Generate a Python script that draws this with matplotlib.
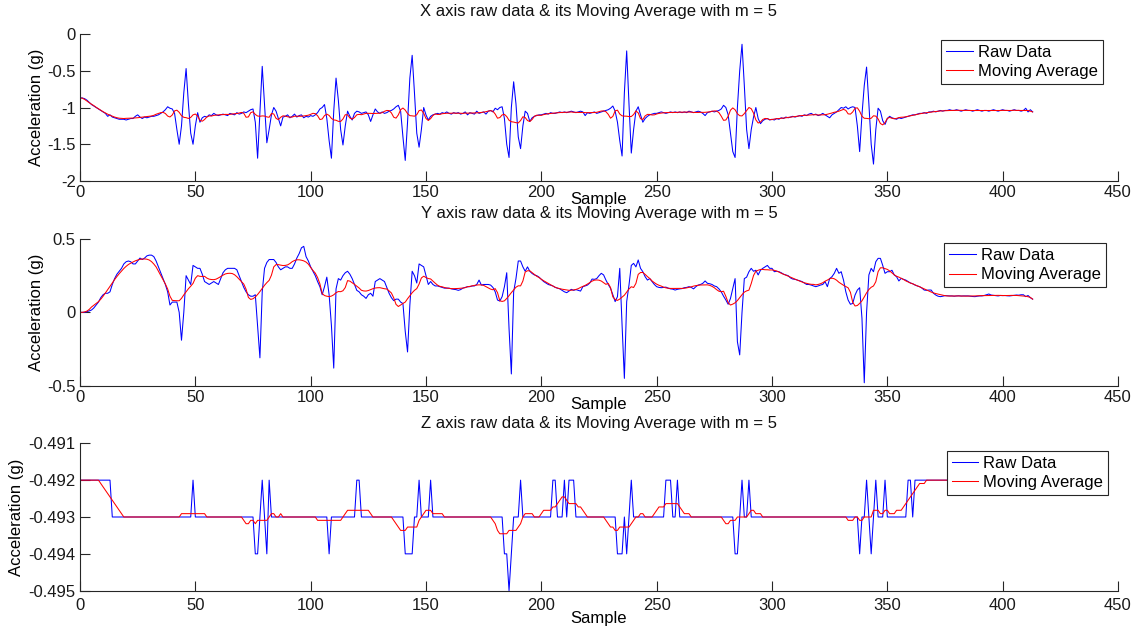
import numpy as np
import matplotlib
matplotlib.use("Agg")
import matplotlib.pyplot as plt

plt.rcParams['font.family'] = ['Liberation Sans', 'DejaVu Sans']
plt.rcParams['axes.unicode_minus'] = False

# ---------------- data ----------------
x_raw = [
    -0.87, -0.87, -0.88, -0.90, -0.93, -0.96, -0.98, -1.00, -1.02, -1.04,
    -1.06, -1.08, -1.12, -1.10, -1.13, -1.14, -1.15, -1.16, -1.16, -1.16,
    -1.17, -1.16, -1.15, -1.15, -1.12, -1.10, -1.13, -1.15, -1.13, -1.14,
    -1.13, -1.12, -1.12, -1.11, -1.10, -1.08, -1.06, -1.03, -0.99, -1.01,
    -1.02, -1.08, -1.30, -1.50, -1.25, -0.80, -0.47, -0.95, -1.35, -1.50,
    -1.25, -1.07, -1.20, -1.14, -1.12, -1.13, -1.10, -1.11, -1.08, -1.10,
    -1.11, -1.10, -1.09, -1.10, -1.11, -1.08, -1.09, -1.10, -1.07, -1.09,
    -1.08, -1.06, -1.07, -1.05, -1.03, -1.02, -1.20, -1.69, -1.05, -0.44,
    -0.95, -1.48, -1.30, -1.10, -1.00, -1.05, -1.15, -1.25, -1.13, -1.12,
    -1.10, -1.14, -1.12, -1.09, -1.13, -1.11, -1.10, -1.14, -1.12, -1.13,
    -1.11, -1.12, -1.10, -1.07, -1.02, -1.00, -0.96, -1.15, -1.45, -1.69,
    -1.05, -0.60, -0.90, -1.30, -1.51, -1.25, -1.05, -1.12, -1.17, -1.08,
    -1.05, -1.06, -1.08, -1.07, -1.06, -1.10, -1.19, -1.10, -1.02, -1.06,
    -1.08, -1.06, -1.08, -1.07, -1.05, -1.04, -1.02, -0.99, -0.97, -1.05,
    -1.40, -1.72, -1.20, -0.60, -0.29, -0.80, -1.35, -1.54, -1.30, -1.00,
    -1.10, -1.17, -1.12, -1.10, -1.09, -1.08, -1.09, -1.07, -1.08, -1.06,
    -1.08, -1.09, -1.07, -1.08, -1.07, -1.09, -1.08, -1.06, -1.10, -1.07,
    -1.08, -1.09, -1.05, -1.08, -1.07, -1.06, -1.09, -1.05, -1.04, -1.06,
    -1.01, -1.03, -1.00, -0.99, -1.15, -1.50, -1.68, -1.00, -0.65, -0.95,
    -1.40, -1.56, -1.25, -1.05, -1.08, -1.19, -1.14, -1.12, -1.11, -1.10,
    -1.10, -1.09, -1.08, -1.09, -1.07, -1.08, -1.08, -1.07, -1.06, -1.07,
    -1.06, -1.07, -1.06, -1.05, -1.06, -1.07, -1.06, -1.05, -1.06, -1.11,
    -1.07, -1.08, -1.07, -1.06, -1.08, -1.07, -1.06, -1.05, -1.04, -1.03,
    -1.01, -0.98, -1.05, -1.20, -1.45, -1.66, -0.80, -0.23, -0.95, -1.62,
    -1.30, -1.05, -0.99, -1.10, -1.20, -1.15, -1.12, -1.10, -1.09, -1.08,
    -1.08, -1.07, -1.06, -1.07, -1.08, -1.07, -1.06, -1.07, -1.06, -1.07,
    -1.06, -1.07, -1.06, -1.07, -1.05, -1.06, -1.07, -1.06, -1.05, -1.06,
    -1.08, -1.11, -1.07, -1.06, -1.05, -1.06, -1.05, -1.04, -1.02, -0.97,
    -1.00, -1.10, -1.35, -1.60, -1.68, -1.00, -0.50, -0.14, -0.70, -1.30,
    -1.56, -1.30, -1.13, -1.00, -1.15, -1.22, -1.18, -1.16, -1.15, -1.17,
    -1.16, -1.17, -1.15, -1.16, -1.14, -1.15, -1.13, -1.14, -1.13, -1.12,
    -1.13, -1.12, -1.11, -1.12, -1.10, -1.11, -1.09, -1.08, -1.10, -1.09,
    -1.11, -1.10, -1.08, -1.10, -1.12, -1.14, -1.10, -1.08, -1.06, -1.03,
    -1.00, -1.01, -0.99, -1.02, -1.00, -0.99, -1.00, -1.25, -1.60, -1.10,
    -0.70, -0.45, -0.95, -1.50, -1.77, -1.30, -1.01, -1.05, -1.18, -1.23,
    -1.15, -1.12, -1.14, -1.15, -1.16, -1.14, -1.15, -1.14, -1.13, -1.12,
    -1.11, -1.10, -1.10, -1.09, -1.08, -1.08, -1.07, -1.08, -1.06, -1.06,
    -1.05, -1.06, -1.05, -1.04, -1.05, -1.04, -1.04, -1.03, -1.04, -1.04,
    -1.03, -1.04, -1.05, -1.04, -1.03, -1.04, -1.04, -1.05, -1.04, -1.03,
    -1.04, -1.05, -1.04, -1.04, -1.05, -1.04, -1.03, -1.04, -1.05, -1.04,
    -1.03, -1.04, -1.04, -1.05, -1.04, -1.03, -1.04, -1.04, -1.05, -1.04,
    -1.01, -1.06, -1.03, -1.06,
]

y_raw = [
    0.000, 0.000, 0.000, 0.005, 0.010, 0.016, 0.030, 0.050, 0.070, 0.100,
    0.120, 0.130, 0.130, 0.140, 0.190, 0.230, 0.260, 0.280, 0.300, 0.330,
    0.345, 0.350, 0.345, 0.330, 0.330, 0.350, 0.370, 0.360, 0.370, 0.385,
    0.390, 0.390, 0.380, 0.350, 0.310, 0.270, 0.230, 0.190, 0.140, 0.050,
    0.070, 0.070, 0.070, 0.000, -0.190, 0.000, 0.250, 0.220, 0.190, 0.320,
    0.310, 0.300, 0.300, 0.260, 0.210, 0.200, 0.190, 0.200, 0.210, 0.200,
    0.190, 0.230, 0.270, 0.290, 0.300, 0.300, 0.300, 0.300, 0.290, 0.250,
    0.210, 0.170, 0.140, 0.120, 0.110, 0.110, 0.120, -0.090, -0.310, 0.140,
    0.300, 0.340, 0.360, 0.360, 0.360, 0.340, 0.310, 0.290, 0.300, 0.310,
    0.310, 0.300, 0.300, 0.330, 0.370, 0.400, 0.440, 0.450, 0.380, 0.350,
    0.310, 0.280, 0.250, 0.210, 0.175, 0.120, 0.175, 0.240, 0.120, -0.090,
    -0.380, 0.160, 0.230, 0.220, 0.250, 0.270, 0.280, 0.260, 0.230, 0.190,
    0.150, 0.140, 0.120, 0.110, 0.095, 0.120, 0.130, 0.110, 0.210, 0.220,
    0.230, 0.220, 0.210, 0.170, 0.130, 0.100, 0.080, 0.090, 0.090, 0.070,
    0.060, -0.130, -0.270, 0.050, 0.280, 0.250, 0.200, 0.330, 0.320, 0.310,
    0.250, 0.190, 0.210, 0.190, 0.180, 0.180, 0.175, 0.170, 0.165, 0.165,
    0.165, 0.160, 0.157, 0.155, 0.150, 0.155, 0.165, 0.170, 0.175, 0.175,
    0.180, 0.180, 0.190, 0.220, 0.186, 0.190, 0.190, 0.190, 0.186, 0.170,
    0.140, 0.084, 0.077, 0.107, 0.175, 0.270, -0.110, -0.420, 0.140, 0.230,
    0.350, 0.350, 0.310, 0.280, 0.310, 0.280, 0.265, 0.255, 0.250, 0.240,
    0.225, 0.210, 0.200, 0.190, 0.185, 0.180, 0.170, 0.165, 0.160, 0.150,
    0.140, 0.134, 0.145, 0.157, 0.150, 0.155, 0.150, 0.145, 0.175, 0.180,
    0.186, 0.200, 0.227, 0.225, 0.230, 0.250, 0.266, 0.255, 0.220, 0.190,
    0.164, 0.120, 0.073, 0.107, 0.300, -0.086, -0.450, 0.073, 0.186, 0.320,
    0.334, 0.310, 0.357, 0.300, 0.277, 0.243, 0.220, 0.230, 0.210, 0.190,
    0.175, 0.170, 0.168, 0.170, 0.172, 0.165, 0.160, 0.158, 0.152, 0.157,
    0.160, 0.162, 0.168, 0.170, 0.175, 0.170, 0.160, 0.175, 0.186, 0.190,
    0.198, 0.214, 0.198, 0.195, 0.190, 0.180, 0.175, 0.160, 0.140, 0.110,
    0.084, 0.055, 0.095, 0.164, 0.230, -0.200, -0.290, 0.000, 0.230, 0.240,
    0.277, 0.300, 0.280, 0.287, 0.255, 0.287, 0.300, 0.310, 0.320, 0.300,
    0.300, 0.277, 0.280, 0.277, 0.270, 0.260, 0.255, 0.250, 0.235, 0.227,
    0.225, 0.220, 0.215, 0.210, 0.200, 0.190, 0.190, 0.186, 0.180, 0.175,
    0.180, 0.186, 0.190, 0.210, 0.175, 0.230, 0.243, 0.266, 0.300, 0.266,
    0.277, 0.220, 0.140, 0.084, 0.055, 0.061, 0.118, 0.152, 0.168, -0.040,
    -0.480, 0.000, 0.255, 0.300, 0.277, 0.345, 0.368, 0.368, 0.320, 0.266,
    0.277, 0.277, 0.287, 0.255, 0.243, 0.214, 0.232, 0.225, 0.220, 0.210,
    0.200, 0.195, 0.186, 0.180, 0.175, 0.165, 0.152, 0.150, 0.152, 0.152,
    0.130, 0.118, 0.110, 0.107, 0.110, 0.114, 0.113, 0.112, 0.112, 0.110,
    0.112, 0.113, 0.111, 0.112, 0.112, 0.112, 0.110, 0.108, 0.107, 0.110,
    0.112, 0.112, 0.115, 0.120, 0.125, 0.118, 0.116, 0.114, 0.112, 0.115,
    0.114, 0.115, 0.113, 0.112, 0.114, 0.116, 0.118, 0.117, 0.120, 0.120,
    0.107, 0.115, 0.100, 0.090,
]

# Z axis readings, in thousandths below -0.490 g (2 -> -0.492, 3 -> -0.493 ...)
z_code = [
    2, 2, 2, 2, 2, 2, 2, 2, 2, 2, 2, 2, 2, 2, 3, 3, 3, 3, 3, 3,
    3, 3, 3, 3, 3, 3, 3, 3, 3, 3, 3, 3, 3, 3, 3, 3, 3, 3, 3, 3,
    3, 3, 3, 3, 3, 3, 3, 3, 3, 2, 3, 3, 3, 3, 3, 3, 3, 3, 3, 3,
    3, 3, 3, 3, 3, 3, 3, 3, 3, 3, 3, 3, 3, 3, 3, 3, 4, 4, 3, 2,
    3, 4, 2, 3, 3, 3, 3, 3, 3, 3, 3, 3, 3, 3, 3, 3, 3, 3, 3, 3,
    3, 3, 3, 3, 3, 3, 3, 3, 4, 3, 3, 3, 3, 3, 3, 3, 3, 3, 3, 3,
    2, 2, 3, 3, 3, 3, 3, 3, 3, 3, 3, 3, 3, 3, 3, 3, 3, 3, 3, 3,
    3, 4, 4, 4, 4, 3, 3, 2, 3, 3, 3, 3, 2, 3, 3, 3, 3, 3, 3, 3,
    3, 3, 3, 3, 3, 3, 3, 3, 3, 3, 3, 3, 3, 3, 3, 3, 3, 3, 3, 3,
    3, 3, 3, 3, 4, 4, 5, 4, 3, 3, 3, 2, 3, 3, 3, 3, 3, 3, 3, 3,
    3, 3, 3, 3, 3, 2, 2, 3, 3, 3, 2, 3, 2, 2, 2, 3, 3, 3, 3, 3,
    3, 3, 3, 3, 3, 3, 3, 3, 3, 3, 3, 3, 3, 4, 4, 4, 3, 4, 3, 2,
    3, 3, 3, 3, 3, 3, 3, 3, 3, 3, 3, 3, 3, 3, 2, 2, 2, 3, 3, 2,
    3, 3, 3, 3, 3, 3, 3, 3, 3, 3, 3, 3, 3, 3, 3, 3, 3, 3, 3, 3,
    3, 3, 3, 3, 4, 4, 3, 2, 3, 3, 2, 3, 3, 3, 3, 3, 3, 3, 3, 3,
    3, 3, 3, 3, 3, 3, 3, 3, 3, 3, 3, 3, 3, 3, 3, 3, 3, 3, 3, 3,
    3, 3, 3, 3, 3, 3, 3, 3, 3, 3, 3, 3, 3, 3, 3, 3, 3, 3, 4, 3,
    3, 2, 3, 4, 3, 2, 3, 3, 3, 2, 3, 3, 3, 3, 3, 3, 3, 3, 3, 2,
    2, 3, 2, 2, 2, 2, 2, 2, 2, 2, 2, 2, 2, 2, 2, 2, 2, 2, 2, 2,
    2, 2, 2, 2, 2, 2, 2, 2, 2, 2, 2, 2, 2, 2, 2, 2, 2, 2, 2, 2,
    2, 2, 2, 2, 2, 2, 2, 2, 2, 2, 2, 2, 2, 2,
]
z_raw = [-0.490 - c / 1000.0 for c in z_code]

m = 5  # half width of the moving-average window (span 2m+1)

titles = ["X axis raw data & its Moving Average with m = 5",
          "Y axis raw data & its Moving Average with m = 5",
          "Z axis raw data & its Moving Average with m = 5"]
x_ticks = [0, 50, 100, 150, 200, 250, 300, 350, 400, 450]
y_ticks_list = [[-2, -1.5, -1, -0.5, 0], [-0.5, 0, 0.5],
                [-0.495, -0.494, -0.493, -0.492, -0.491]]
y_ticklabels_list = [["-2", "-1.5", "-1", "-0.5", "0"], ["-0.5", "0", "0.5"],
                     ["-0.495", "-0.494", "-0.493", "-0.492", "-0.491"]]
series = [x_raw, y_raw, z_raw]


def moving_average(v, half):
    v = np.asarray(v, dtype=float)
    n = len(v)
    out = np.empty(n)
    for i in range(n):
        k = min(i, n - 1 - i, half)
        out[i] = v[i - k:i + k + 1].mean()
    return out


# ---------------- figure ----------------
W, H = 1141, 629
fig = plt.figure(figsize=(W / 100, H / 100), dpi=100)

# axes pixel boxes: (left, top, right, bottom)
boxes = [(80, 34, 1118, 181), (80, 239, 1118, 385.7), (80, 443.3, 1118, 590.7)]
title_y = [11, 214, 424]
xlabel_y = [199, 404, 619]
ylabel_x = [37, 37, 17]
ticklab_pad = [3.0, 3.0, 5.0]
legend_anchor = [(1102.7, 40), (1106, 243.3), (1108.3, 450.7)]

axis_color = '#262626'
FS = 12

for i in range(3):
    l, t, r, b = boxes[i]
    ax = fig.add_axes([l / W, 1 - b / H, (r - l) / W, (b - t) / H])
    raw = series[i]
    s = np.arange(len(raw))
    ax.plot(s, raw, color='#0000ff', lw=0.75, label='Raw Data')
    ax.plot(s, moving_average(raw, m), color='#ff0000', lw=0.75, label='Moving Average')

    ax.set_xlim(0, 450)
    yt = y_ticks_list[i]
    ax.set_ylim(yt[0], yt[-1])
    ax.set_xticks(x_ticks)
    ax.set_xticklabels([str(v) for v in x_ticks])
    ax.set_yticks(yt)
    ax.set_yticklabels(y_ticklabels_list[i])

    for sp in ['top', 'right']:
        ax.spines[sp].set_visible(False)
    for sp in ['left', 'bottom']:
        ax.spines[sp].set_color(axis_color)
        ax.spines[sp].set_linewidth(0.8)
    ax.tick_params(axis='both', direction='in', length=7, width=0.8,
                   color=axis_color, labelsize=FS, labelcolor='#1a1a1a')
    ax.tick_params(axis='x', pad=ticklab_pad[i])
    ax.tick_params(axis='y', pad=3)

    ax.set_ylabel('Acceleration (g)', fontsize=FS)
    ax.yaxis.set_label_coords((ylabel_x[i] - l) / (r - l), 0.5)
    ax.yaxis.label.set_va('center')
    ax.set_xlabel('Sample', fontsize=FS)
    ax.xaxis.set_label_coords(0.5, (b - xlabel_y[i]) / (b - t))
    ax.xaxis.label.set_va('center')

    ax.text(0.5, (b - title_y[i]) / (b - t), titles[i], transform=ax.transAxes,
            ha='center', va='center', fontsize=FS, color='#111111')

    ax_, ay_ = legend_anchor[i]
    leg = ax.legend(loc='upper right',
                    bbox_to_anchor=((ax_ - l) / (r - l), (b - ay_) / (b - t)),
                    borderaxespad=0, fancybox=False, framealpha=1,
                    edgecolor='#262626', fontsize=FS, handlelength=1.6,
                    handletextpad=0.3, labelspacing=0.25, borderpad=0.3)
    leg.get_frame().set_linewidth(0.8)

fig.savefig('out.png', dpi=100)
